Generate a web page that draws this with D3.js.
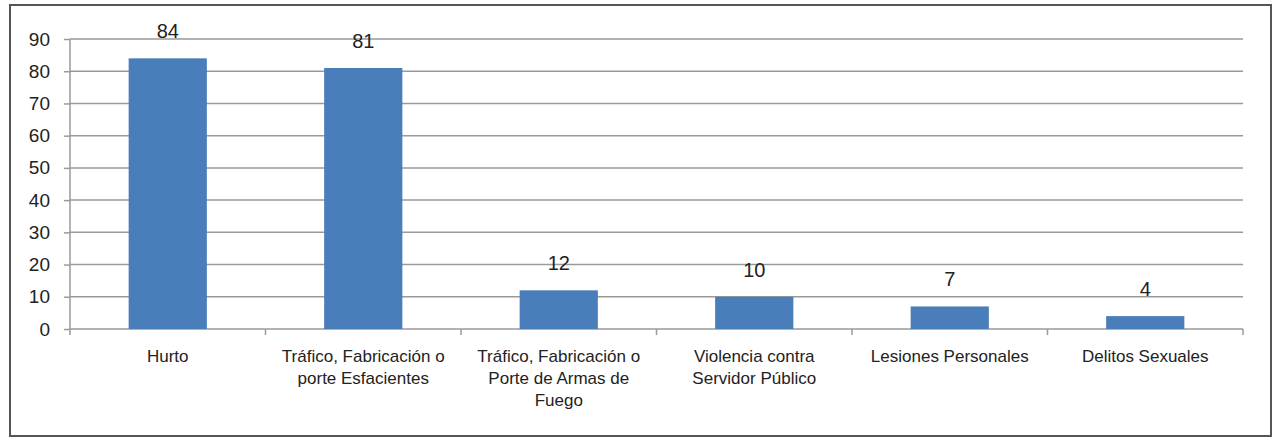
<!DOCTYPE html>
<html>
<head>
<meta charset="utf-8">
<script src="https://cdn.jsdelivr.net/npm/d3@7"></script>
<style>
  body { margin: 0; background: #fff; }
  text { font-family: "Liberation Sans Narrow", "Liberation Sans", sans-serif; fill: #222; }
</style>
</head>
<body>
<script>
const w = 1275;
const h = 440;

// data
const categories = [
  "Hurto",
  "Tráfico, Fabricación o\nporte Esfacientes",
  "Tráfico, Fabricación o\nPorte de Armas de\nFuego",
  "Violencia contra\nServidor Público",
  "Lesiones Personales",
  "Delitos Sexuales"
];
const values = [84, 81, 12, 10, 7, 4];
const yTicks = [0, 10, 20, 30, 40, 50, 60, 70, 80, 90];

const mLeft = 70, mRight = 1243, mTop = 39, mBottom = 329;

let svg = d3.select("body")
  .append("svg")
    .attr("width", w)
    .attr("height", h);

// outer frame
svg.append("rect")
  .attr("x", 10).attr("y", 5)
  .attr("width", 1261).attr("height", 431)
  .attr("fill", "#fff")
  .attr("stroke", "#555")
  .attr("stroke-width", 2);

let x = d3.scaleBand()
  .domain(categories)
  .range([mLeft, mRight])
  .paddingInner(0.6)
  .paddingOuter(0.3);

let xTicks = d3.scaleLinear()
  .domain([0, categories.length])
  .range([mLeft, mRight]);

let y = d3.scaleLinear()
  .domain([0, 90])
  .range([mBottom, mTop]);

// gridlines
svg.append("g")
  .selectAll("line")
  .data(yTicks.filter(d => d > 0))
  .enter()
  .append("line")
    .attr("x1", mLeft).attr("x2", mRight)
    .attr("y1", d => y(d)).attr("y2", d => y(d))
    .attr("stroke", "#9a9a9a")
    .attr("stroke-width", 1.5);

// y axis
let yAxis = svg.append("g")
  .attr("transform", "translate(" + mLeft + ",0)")
  .call(d3.axisLeft(y).tickValues(yTicks).tickSize(6).tickPadding(14));
yAxis.selectAll("text").style("font-size", "19px").attr("fill", "#222");
yAxis.selectAll("line, path").attr("stroke", "#9a9a9a").attr("stroke-width", 1.5);
yAxis.select(".domain").attr("d", "M0," + mBottom + "V" + mTop);

// x axis line and ticks
svg.append("line")
  .attr("x1", mLeft).attr("x2", mRight)
  .attr("y1", mBottom).attr("y2", mBottom)
  .attr("stroke", "#9a9a9a").attr("stroke-width", 1.5);
svg.append("g")
  .selectAll("line")
  .data(d3.range(categories.length + 1))
  .enter()
  .append("line")
    .attr("x1", d => xTicks(d)).attr("x2", d => xTicks(d))
    .attr("y1", mBottom).attr("y2", mBottom + 6)
    .attr("stroke", "#9a9a9a").attr("stroke-width", 1.5);

// bars
svg.selectAll("rect.bar")
  .data(values)
  .enter()
  .append("rect")
    .attr("class", "bar")
    .attr("x", (d, i) => x(categories[i]))
    .attr("width", x.bandwidth())
    .attr("y", d => y(d))
    .attr("height", d => y(0) - y(d))
    .attr("fill", "#4a7ebb");

// value labels
svg.selectAll("text.val")
  .data(values)
  .enter()
  .append("text")
    .attr("class", "val")
    .attr("x", (d, i) => x(categories[i]) + x.bandwidth() / 2)
    .attr("y", d => y(d) - 20)
    .attr("text-anchor", "middle")
    .style("font-size", "20px")
    .text(d => d);

// category labels
let cat = svg.selectAll("text.cat")
  .data(categories)
  .enter()
  .append("text")
    .attr("class", "cat")
    .attr("text-anchor", "middle")
    .style("font-size", "17px");
cat.selectAll("tspan")
  .data(d => d.split("\n").map(s => ({ s: s, c: d })))
  .enter()
  .append("tspan")
    .attr("x", d => x(d.c) + x.bandwidth() / 2)
    .attr("y", (d, i) => 362 + i * 22)
    .text(d => d.s);
</script>
</body>
</html>
